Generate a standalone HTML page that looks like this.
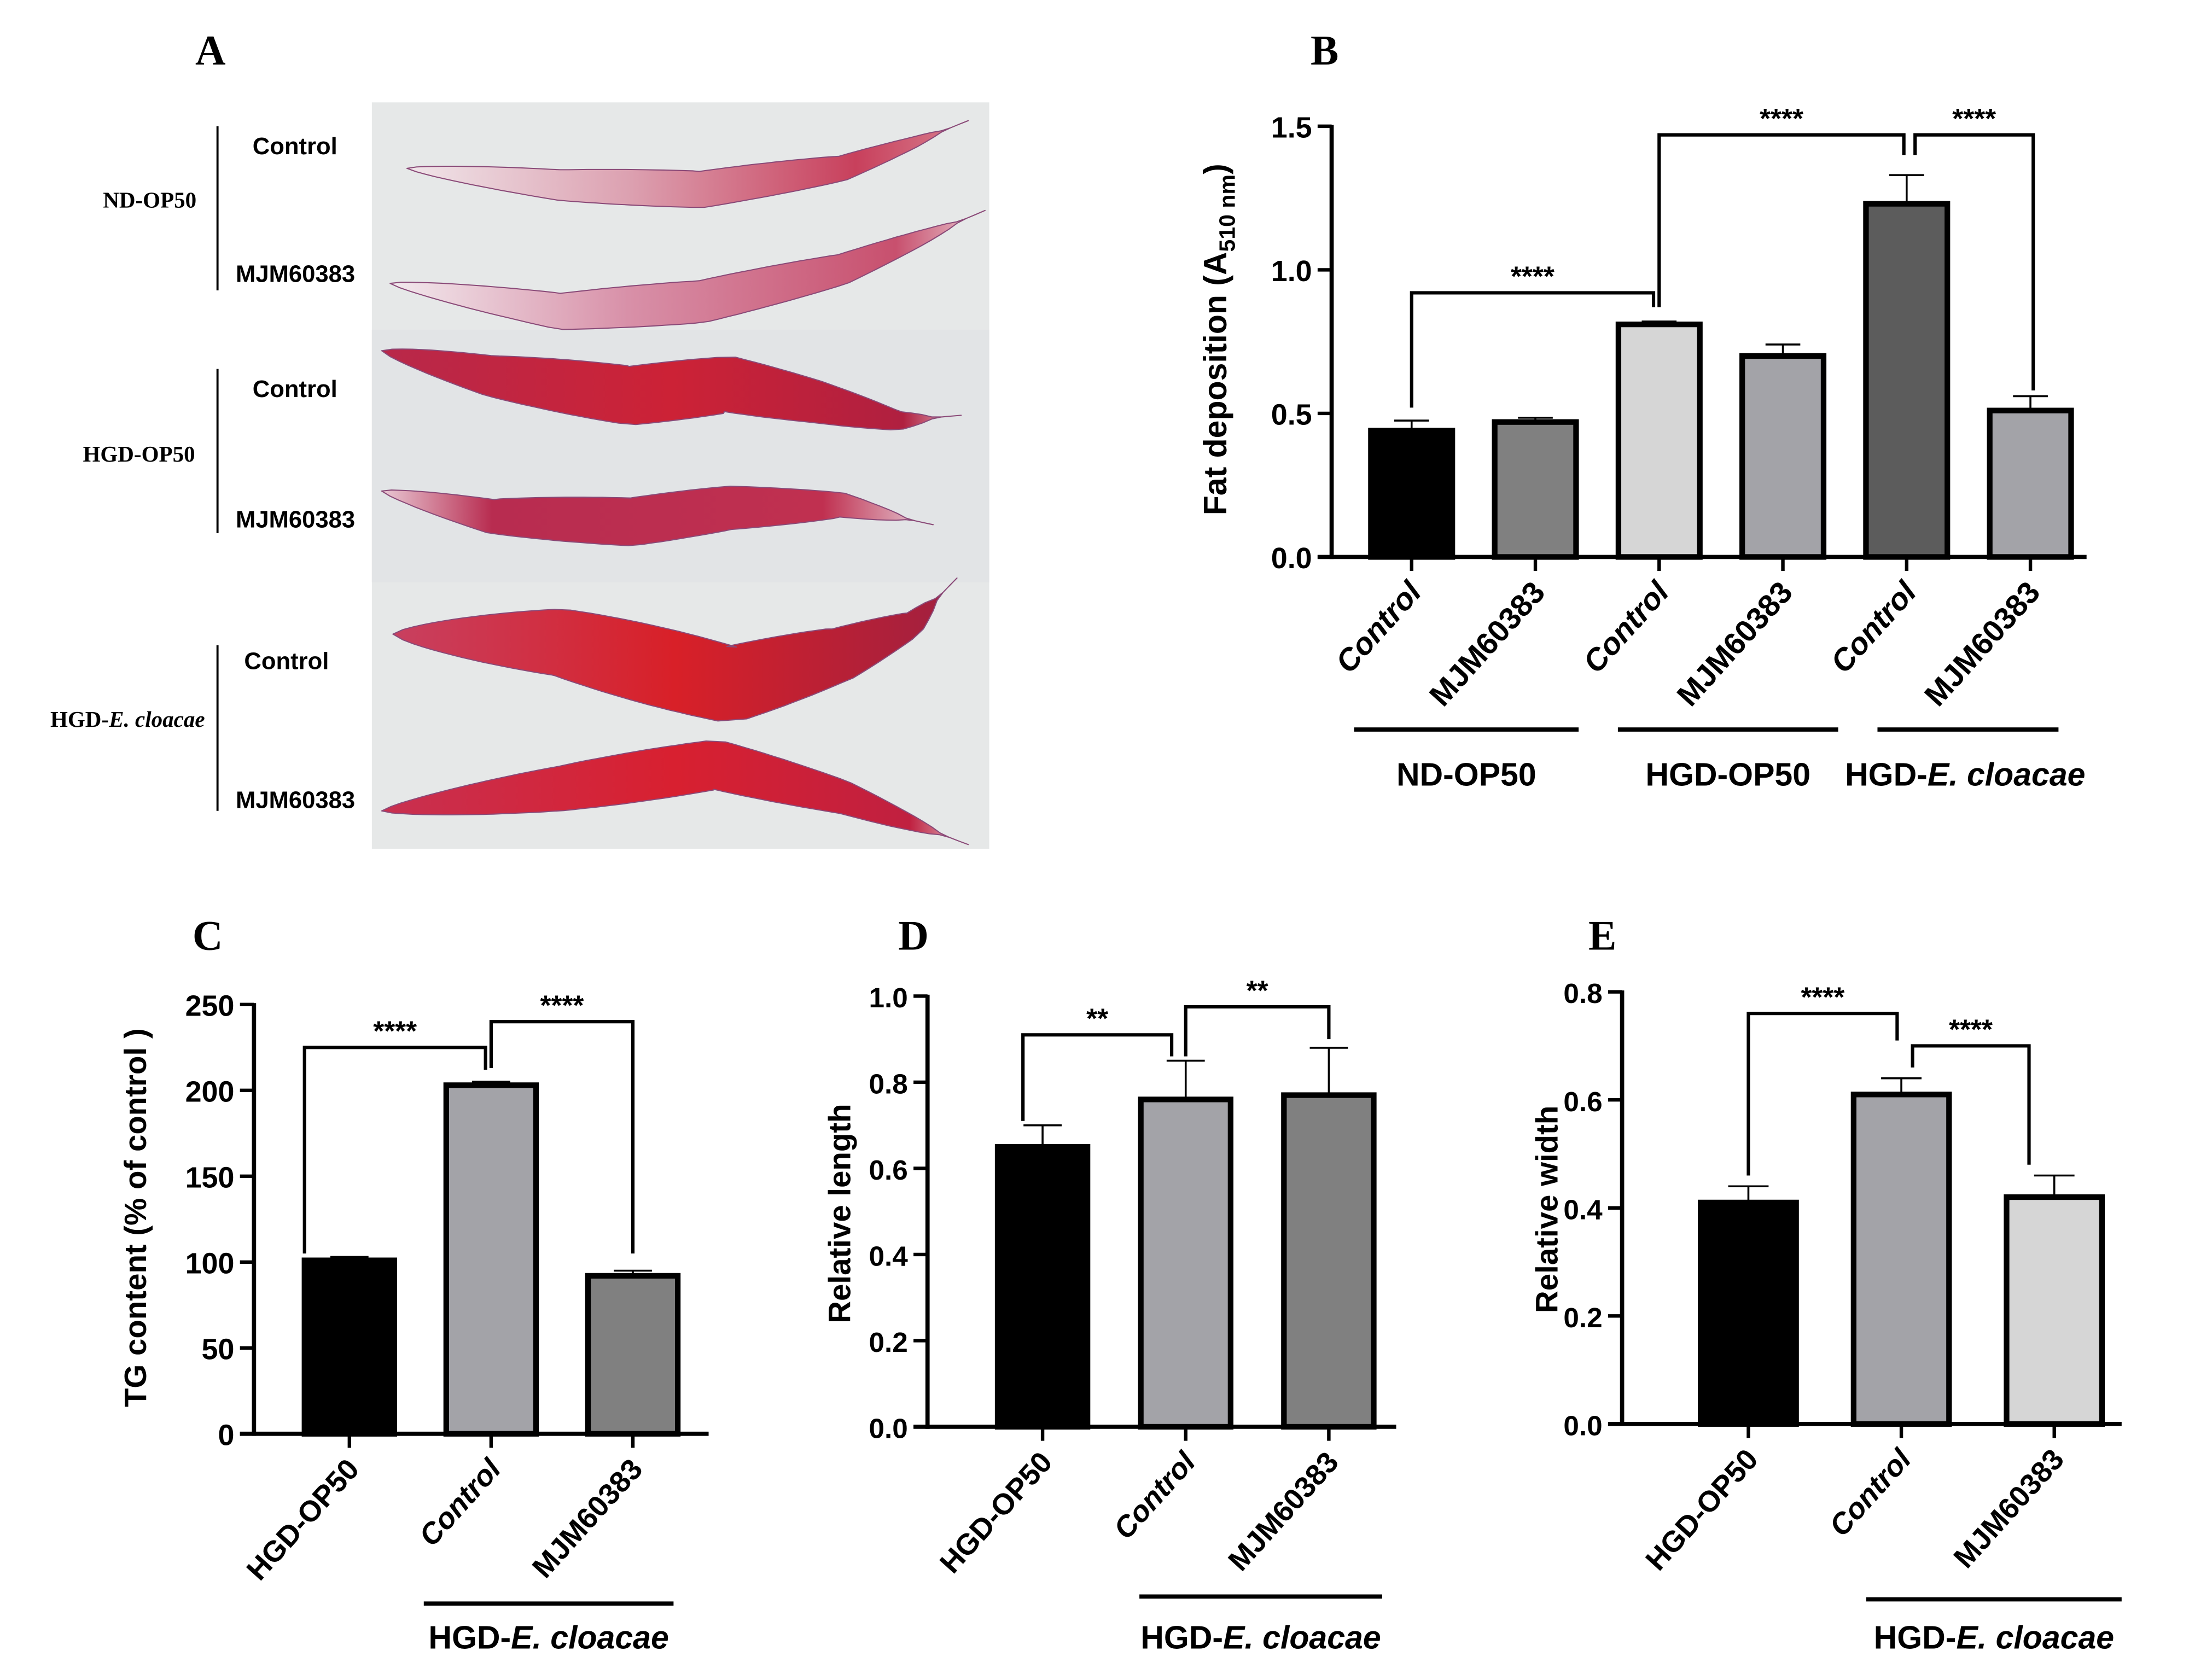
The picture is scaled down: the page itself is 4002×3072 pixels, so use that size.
<!DOCTYPE html>
<html><head><meta charset="utf-8"><style>
html,body{margin:0;padding:0;background:#fff}
svg{display:block}
.t{font-family:"Liberation Sans",Arial,sans-serif;font-weight:bold;fill:#000}
.s{font-family:"Liberation Serif","Times New Roman",serif;font-weight:bold;fill:#000}
</style></head><body>
<svg id="fig" xmlns="http://www.w3.org/2000/svg" width="4002" height="3072" viewBox="0 0 1560 1197.5">
<defs>
<linearGradient id="gw1" x1="0" x2="1"><stop offset="0" stop-color="#f0e6ea"/><stop offset="0.4" stop-color="#dca0b0"/><stop offset="0.8" stop-color="#c8405c"/><stop offset="1" stop-color="#d88090"/></linearGradient>
<linearGradient id="gw2" x1="0" x2="1"><stop offset="0" stop-color="#f2eaee"/><stop offset="0.4" stop-color="#d890a8"/><stop offset="0.85" stop-color="#c8506e"/><stop offset="1" stop-color="#e8c8d0"/></linearGradient>
<linearGradient id="gw3" x1="0" x2="1"><stop offset="0" stop-color="#b8284a"/><stop offset="0.5" stop-color="#cc2236"/><stop offset="0.9" stop-color="#b02040"/><stop offset="1" stop-color="#e0b0c0"/></linearGradient>
<linearGradient id="gw4" x1="0" x2="1"><stop offset="0" stop-color="#e8c8d4"/><stop offset="0.2" stop-color="#b82c50"/><stop offset="0.8" stop-color="#c03050"/><stop offset="1" stop-color="#e6d0da"/></linearGradient>
<linearGradient id="gw5" x1="0" x2="1"><stop offset="0" stop-color="#c84060"/><stop offset="0.5" stop-color="#d82028"/><stop offset="1" stop-color="#a02040"/></linearGradient>
<linearGradient id="gw6" x1="0" x2="1"><stop offset="0" stop-color="#c83050"/><stop offset="0.5" stop-color="#d82030"/><stop offset="0.9" stop-color="#c02040"/><stop offset="1" stop-color="#e0c0c8"/></linearGradient>
</defs>
<text class="s" x="150" y="46" font-size="30" text-anchor="middle">A</text>
<text class="s" x="944" y="46" font-size="30" text-anchor="middle">B</text>
<text class="s" x="148" y="677" font-size="30" text-anchor="middle">C</text>
<text class="s" x="651" y="677" font-size="30" text-anchor="middle">D</text>
<text class="s" x="1142" y="677" font-size="30" text-anchor="middle">E</text>
<g>
<rect x="265" y="73" width="440" height="532" fill="#e6e8e8"/>
<rect x="265" y="235" width="440" height="180" fill="#e2e4e6"/>
<g id="worms"></g>
<line x1="155" y1="90" x2="155" y2="207" stroke="#000" stroke-width="1.5"/>
<line x1="155" y1="263" x2="155" y2="380" stroke="#000" stroke-width="1.5"/>
<line x1="155" y1="460" x2="155" y2="578" stroke="#000" stroke-width="1.5"/>
<text class="s" x="140" y="148" font-size="16" text-anchor="end">ND-OP50</text>
<text class="s" x="139" y="329" font-size="16" text-anchor="end">HGD-OP50</text>
<text class="s" x="146" y="518" font-size="16" text-anchor="end">HGD-<tspan font-style="italic">E. cloacae</tspan></text>
<text class="t" x="180" y="110" font-size="17">Control</text>
<text class="t" x="168" y="201" font-size="17">MJM60383</text>
<text class="t" x="180" y="283" font-size="17">Control</text>
<text class="t" x="168" y="376" font-size="17">MJM60383</text>
<text class="t" x="174" y="477" font-size="17">Control</text>
<text class="t" x="168" y="576" font-size="17">MJM60383</text>
</g>
<g id="charts"></g>
</svg>
<script>
// ---- Panel B data ----
var bCats = ["Control","MJM60383","Control","MJM60383","Control","MJM60383"];
var bVals = [0.44, 0.47, 0.81, 0.70, 1.23, 0.51];
var bErrs = [0.035, 0.015, 0.01, 0.04, 0.10, 0.05];
var bTicks = [0.0, 0.5, 1.0, 1.5];
var bTickLabels = ["0.0","0.5","1.0","1.5"];
// ---- Panel C data ----
var cCats = ["HGD-OP50","Control","MJM60383"];
var cVals = [101, 203, 92];
var cErrs = [2, 2, 3];
var cTicks = [0, 50, 100, 150, 200, 250];
var cTickLabels = ["0","50","100","150","200","250"];
// ---- Panel D data ----
var dCats = ["HGD-OP50","Control","MJM60383"];
var dVals = [0.65, 0.76, 0.77];
var dErrs = [0.05, 0.09, 0.11];
var dTicks = [0, 0.2, 0.4, 0.6, 0.8, 1.0];
var dTickLabels = ["0.0","0.2","0.4","0.6","0.8","1.0"];
// ---- Panel E data ----
var eCats = ["HGD-OP50","Control","MJM60383"];
var eVals = [0.41, 0.61, 0.42];
var eErrs = [0.03, 0.03, 0.04];
var eTicks = [0, 0.2, 0.4, 0.6, 0.8];
var eTickLabels = ["0.0","0.2","0.4","0.6","0.8"];

var NS = "http://www.w3.org/2000/svg";
var root = document.getElementById("charts");
function mk(tag, attrs, parent) {
  var e = document.createElementNS(NS, tag);
  for (var k in attrs) e.setAttribute(k, attrs[k]);
  (parent || root).appendChild(e);
  return e;
}

function chart(id, cfg, cats, vals, errs, ticks, tickLabels, colors) {
  var g = mk("g", {});
  
  
  var ymax = ticks[ticks.length - 1];
  function ys(v) { return cfg.y0 - (v / ymax) * (cfg.y0 - cfg.ytop); }
  function xs(i) { return cfg.x0 + i * cfg.step; }
  for (var i = 0; i < vals.length; i++) {
    var cx = xs(i), top = ys(vals[i]);
    var eb = mk("line", {x1: cx, x2: cx, y1: top, y2: ys(vals[i] + errs[i]), stroke: "#000", "stroke-width": 1.4}, g);
    
    
    var ec = mk("line", {x1: cx - cfg.bw * 0.2, x2: cx + cfg.bw * 0.2, y1: ys(vals[i] + errs[i]), y2: ys(vals[i] + errs[i]), stroke: "#000", "stroke-width": 1.4}, g);
    
    
    var r = mk("rect", {x: cx - cfg.bw / 2 + 2, y: top, width: cfg.bw - 4, height: cfg.y0 - top, fill: colors[i], stroke: "#000", "stroke-width": 4}, g);
    
    
    var tk = mk("line", {x1: cx, x2: cx, y1: cfg.y0, y2: cfg.y0 + 10, stroke: "#000", "stroke-width": 2.5}, g);
    
    
    var lx = cx + 8, ly = cfg.y0 + 26;
    var t = mk("text", {x: lx, y: ly, "font-size": cfg.fs, "text-anchor": "end", transform: "rotate(-48 " + lx + " " + ly + ")", "class": "t"}, g);
    if (cats[i] === "Control") t.setAttribute("font-style", "italic");
    t.textContent = cats[i];
    
    
  }
  var ya = mk("line", {x1: cfg.ax, x2: cfg.ax, y1: cfg.ytop - 1, y2: cfg.y0 + 1.5, stroke: "#000", "stroke-width": 3}, g);
  
  
  var xa = mk("line", {x1: cfg.ax - 10, x2: cfg.xend, y1: cfg.y0, y2: cfg.y0, stroke: "#000", "stroke-width": 3}, g);
  
  
  for (var j = 0; j < ticks.length; j++) {
    var y = ys(ticks[j]);
    var yt = mk("line", {x1: cfg.ax - 10, x2: cfg.ax, y1: y, y2: y, stroke: "#000", "stroke-width": 2.5}, g);
    
    
    var tl = mk("text", {x: cfg.ax - 14, y: y + 8, "font-size": cfg.tfs, "text-anchor": "end", "class": "t"}, g);
    tl.textContent = tickLabels[j];
    
    
  }
  var yl = mk("text", {x: cfg.ytx, y: cfg.yty, "font-size": cfg.yfs, "text-anchor": "middle", transform: "rotate(-90 " + cfg.ytx + " " + cfg.yty + ")", "class": "t"}, g);
  yl.innerHTML = cfg.ytitle;
  
  
  cfg.brackets.forEach(function (b) {
    var x1 = xs(b[0]) + (b[5] || 0), x2 = xs(b[1]) + (b[6] || 0), yl2 = ys(b[2]);
    var p = mk("path", {d: "M" + x1 + " " + ys(b[3]) + "V" + yl2 + "H" + x2 + "V" + ys(b[4]), fill: "none", stroke: "#000", "stroke-width": 2.4}, g);
    
    
    var st = mk("text", {x: (x1 + x2) / 2, y: yl2 - 5, "font-size": 20, "text-anchor": "middle", "class": "t"}, g);
    st.textContent = b[7] || "****";
    
    
  });
  cfg.groups.forEach(function (gr) {
    var gl = mk("line", {x1: gr[0], x2: gr[1], y1: gr[2], y2: gr[2], stroke: "#000", "stroke-width": 3}, g);
    
    
    var gt = mk("text", {x: (gr[0] + gr[1]) / 2 + (gr[5] || 0), y: gr[3], "font-size": 23, "text-anchor": "middle", "class": "t"}, g);
    gt.innerHTML = gr[4];
    
    
  });
}

chart("chart-b-fat-deposition",
  {ax: 949, y0: 397, ytop: 90, x0: 1006, step: 88.2, bw: 62, xend: 1487, fs: 22, tfs: 21, yfs: 23, ytx: 874, yty: 242,
   ytitle: 'Fat deposition (A<tspan font-size="16" dy="6">510 nm</tspan><tspan dy="-6">)</tspan>',
   brackets: [[0, 2, 0.92, 0.52, 0.87, 0, -4], [2, 4, 1.47, 0.87, 1.40, 0, -2], [4, 5, 1.47, 1.40, 0.58, 6, 2]],
   groups: [[965, 1125, 520, 560, "ND-OP50"], [1153, 1310, 520, 560, "HGD-OP50"], [1338, 1467, 520, 560, 'HGD-<tspan font-style="italic">E. cloacae</tspan>', -2]]},
  bCats, bVals, bErrs, bTicks, bTickLabels, ["#000", "#808080", "#d6d6d6", "#a3a3a8", "#5c5c5c", "#a3a3a8"]);

chart("chart-c-tg-content",
  {ax: 181, y0: 1022, ytop: 716, x0: 249, step: 101, bw: 68, xend: 505, fs: 21, tfs: 21, yfs: 22, ytx: 104, yty: 868,
   ytitle: "TG content (% of control )",
   brackets: [[0, 1, 225, 105, 212, -32, -4], [1, 2, 240, 213, 105, 0, 0]],
   groups: [[302, 480, 1143, 1175, 'HGD-<tspan font-style="italic">E. cloacae</tspan>']]},
  cCats, cVals, cErrs, cTicks, cTickLabels, ["#000", "#a3a3a8", "#808080"]);

chart("chart-d-relative-length",
  {ax: 661, y0: 1017, ytop: 710, x0: 743, step: 102, bw: 68, xend: 995, fs: 21, tfs: 20, yfs: 22, ytx: 606, yty: 865,
   ytitle: "Relative length",
   brackets: [[0, 1, 0.91, 0.71, 0.86, -14, -10, "**"], [1, 2, 0.975, 0.86, 0.90, 0, 0, "**"]],
   groups: [[812, 985, 1138, 1175, 'HGD-<tspan font-style="italic">E. cloacae</tspan>']]},
  dCats, dVals, dErrs, dTicks, dTickLabels, ["#000", "#a3a3a8", "#808080"]);

chart("chart-e-relative-width",
  {ax: 1156, y0: 1015, ytop: 707, x0: 1246, step: 109, bw: 72, xend: 1512, fs: 21, tfs: 20, yfs: 22, ytx: 1110, yty: 862,
   ytitle: "Relative width",
   brackets: [[0, 1, 0.76, 0.46, 0.71, 0, -3], [1, 2, 0.70, 0.66, 0.48, 8, -18]],
   groups: [[1330, 1512, 1140, 1175, 'HGD-<tspan font-style="italic">E. cloacae</tspan>']]},
  eCats, eVals, eErrs, eTicks, eTickLabels, ["#000", "#a3a3a8", "#d6d6d6"]);

var wg = document.getElementById("worms");
function worm(pts, w, fill, name) {
  var n = 60;
  var L = [0];
  for (var i = 1; i < pts.length; i++) L.push(L[i - 1] + Math.hypot(pts[i][0] - pts[i - 1][0], pts[i][1] - pts[i - 1][1]));
  var tot = L[L.length - 1], top = [], bot = [];
  for (var k = 0; k <= n; k++) {
    var s = tot * k / n, j = 1;
    while (j < pts.length - 1 && L[j] < s) j++;
    var a = pts[j - 1], b = pts[j], f = (s - L[j - 1]) / (L[j] - L[j - 1]);
    var x = a[0] + (b[0] - a[0]) * f, y = a[1] + (b[1] - a[1]) * f;
    var dx = b[0] - a[0], dy = b[1] - a[1], dl = Math.hypot(dx, dy);
    var nx = -dy / dl, ny = dx / dl;
    var t = k / n, hw = w / 2 * Math.pow(Math.sin(Math.PI * Math.min(1, t * 1.05)), 0.7);
    top.push([x + nx * hw, y + ny * hw]); bot.push([x - nx * hw, y - ny * hw]);
  }
  var d = "M" + top.map(function (p) { return p[0].toFixed(1) + " " + p[1].toFixed(1); }).join("L");
  d += "L" + bot.reverse().map(function (p) { return p[0].toFixed(1) + " " + p[1].toFixed(1); }).join("L") + "Z";
  var p = document.createElementNS(NS, "path");
  p.setAttribute("d", d); p.setAttribute("fill", fill);
  p.setAttribute("stroke", "#8a4a78"); p.setAttribute("stroke-width", "0.8");
  p.setAttribute("stroke-linejoin", "round");
  
  
  wg.appendChild(p);
}
worm([[290, 120], [400, 132], [500, 135], [600, 120], [650, 102], [690, 86]], 26, "url(#gw1)", "worm-nd-control");
worm([[278, 202], [400, 222], [500, 215], [600, 192], [660, 168], [702, 150]], 30, "url(#gw2)", "worm-nd-mjm60383");
worm([[272, 250], [350, 268], [450, 282], [520, 274], [580, 286], [640, 300], [685, 296]], 42, "url(#gw3)", "worm-hgd-op50-control");
worm([[272, 350], [350, 368], [450, 372], [520, 362], [600, 360], [665, 374]], 34, "url(#gw4)", "worm-hgd-op50-mjm60383");
worm([[280, 452], [400, 458], [520, 488], [600, 466], [650, 445], [682, 412]], 56, "url(#gw5)", "worm-hgd-ec-control");
worm([[272, 578], [400, 562], [510, 545], [600, 568], [690, 602]], 36, "url(#gw6)", "worm-hgd-ec-mjm60383");
</script>
</body></html>
